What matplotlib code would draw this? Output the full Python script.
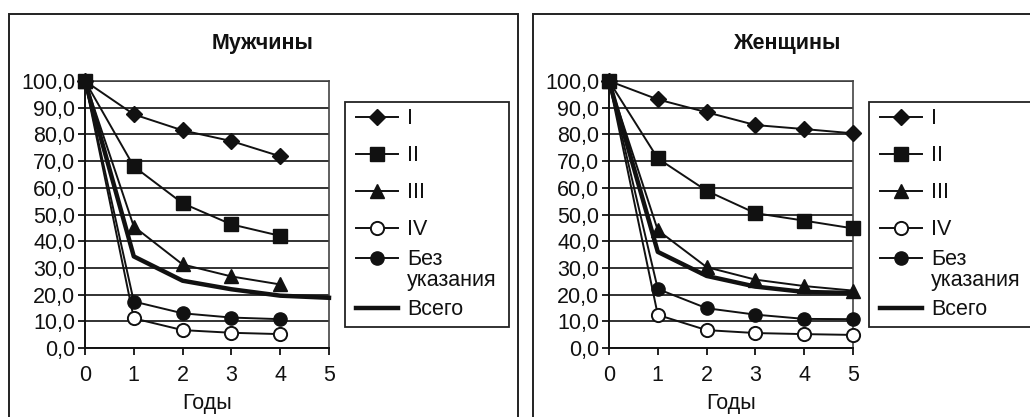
import matplotlib
matplotlib.use("Agg")
import matplotlib.pyplot as plt
from matplotlib.lines import Line2D
from matplotlib.patches import Rectangle
from matplotlib.legend_handler import HandlerLine2D
from matplotlib.offsetbox import TextArea
from matplotlib.transforms import Bbox
from matplotlib.ticker import FuncFormatter

plt.rcParams['font.family'] = ['Liberation Sans', 'DejaVu Sans']

# ---------------- data ----------------
titles = ["Мужчины", "Женщины"]
x_label = "Годы"
series_names = ["I", "II", "III", "IV", "Без\nуказания", "Всего"]

years_men = [0, 1, 2, 3, 4]
men_I = [100, 87.5, 81.5, 77.5, 71.8]
men_II = [100, 68.0, 54.2, 46.3, 42.0]
men_III = [100, 45.5, 31.3, 26.8, 23.8]
men_IV = [100, 11.1, 6.7, 5.7, 5.2]
men_none = [100, 17.4, 13.0, 11.4, 10.8]
years_men_total = [0, 1, 2, 3, 4, 5]
men_total = [100, 34.3, 25.2, 22.0, 19.6, 18.8]

years_women = [0, 1, 2, 3, 4, 5]
women_I = [100, 93.1, 88.3, 83.5, 82.0, 80.4]
women_II = [100, 71.0, 58.9, 50.5, 47.7, 44.8]
women_III = [100, 44.1, 30.3, 25.6, 23.2, 21.5]
women_IV = [100, 12.4, 6.7, 5.6, 5.2, 4.9]
women_none = [100, 22.1, 14.9, 12.5, 10.9, 10.8]
years_women_total = [0, 1, 2, 3, 4, 5]
women_total = [100, 36.0, 27.0, 23.0, 21.0, 20.6]

x_ticks = [0, 1, 2, 3, 4, 5]
y_ticks = [0, 10, 20, 30, 40, 50, 60, 70, 80, 90, 100]

# ---------------- styles ----------------
FS = 15.5
LW = 1.4
LW_TOTAL = 3.2
styles = [
    dict(marker="D", ms=8.0, mfc="#111111", mec="#111111"),
    dict(marker="s", ms=10.5, mfc="#111111", mec="#111111"),
    dict(marker="^", ms=10.5, mfc="#111111", mec="#111111"),
    dict(marker="o", ms=9.5, mfc="white", mec="#111111", mew=1.4),
    dict(marker="o", ms=9.5, mfc="#111111", mec="#111111"),
]
zorders = [4, 8, 5, 6, 7]


class HandlerShift(HandlerLine2D):
    def __init__(self, shift, **kw):
        super().__init__(**kw)
        self.shift = shift

    def create_artists(self, legend, orig_handle, xdescent, ydescent,
                       width, height, fontsize, trans):
        arts = super().create_artists(legend, orig_handle, xdescent, ydescent,
                                      width, height, fontsize, trans)
        for a in arts:
            a.set_ydata([y + self.shift for y in a.get_ydata()])
        return arts


def compress_textarea(ta, d):
    orig = ta.get_bbox

    def get_bbox(renderer):
        bb = orig(renderer)
        return Bbox.from_bounds(bb.x0, bb.y0 + d, bb.width, bb.height - 2 * d)

    ta.get_bbox = get_bbox


fig = plt.figure(figsize=(10.30, 4.17), dpi=100)
W, H = 1030.0, 417.0

# outer frames
for (x0, x1) in [(9, 518), (533, 1045)]:
    fig.patches.append(Rectangle((x0 / W, -0.05), (x1 - x0) / W, (H - 14) / H + 0.05,
                                 transform=fig.transFigure, fill=False,
                                 edgecolor="#222222", linewidth=1.4))

panels = [
    (titles[0], 85, 263, 345,
     [(years_men, men_I), (years_men, men_II), (years_men, men_III),
      (years_men, men_IV), (years_men, men_none)],
     (years_men_total, men_total)),
    (titles[1], 609, 787, 869,
     [(years_women, women_I), (years_women, women_II), (years_women, women_III),
      (years_women, women_IV), (years_women, women_none)],
     (years_women_total, women_total)),
]

fmt = FuncFormatter(lambda v, p: f"{v:.1f}".replace(".", ","))

for title, axl, title_x, leg_x, series, total in panels:
    ax = fig.add_axes([axl / W, 1 - 348 / H, 244 / W, 267 / H])
    handles = []
    for (xs, ys), st, z in zip(series, styles, zorders):
        h, = ax.plot(xs, ys, color="#111111", lw=LW, clip_on=False, zorder=z, **st)
        handles.append(h)
    ht, = ax.plot(total[0], total[1], color="#111111", lw=LW_TOTAL,
                  solid_joinstyle="round", clip_on=False, zorder=3)
    handles.append(ht)

    ax.set_xlim(0, 5)
    ax.set_ylim(0, 100)
    ax.set_xticks(x_ticks)
    ax.set_yticks(y_ticks)
    ax.yaxis.set_major_formatter(fmt)
    ax.tick_params(axis="both", direction="out", length=5, width=1.3,
                   labelsize=FS, colors="#111111", pad=2)
    ax.tick_params(axis="x", pad=7)
    ax.grid(axis="y", color="#222222", lw=1.3, zorder=1)
    ax.set_axisbelow(True)
    for s in ["left", "bottom"]:
        ax.spines[s].set_color("#111111")
        ax.spines[s].set_linewidth(1.4)
    for s in ["right", "top"]:
        ax.spines[s].set_color("#444444")
        ax.spines[s].set_linewidth(1.2)
    ax.set_xlabel(x_label, fontsize=FS, labelpad=5, color="#111111")

    fig.text(title_x / W, 1 - 43 / H, title, fontsize=FS, fontweight="bold",
             ha="center", va="center", color="#111111")

    leg = fig.legend(handles, series_names, loc="upper left",
                     bbox_to_anchor=(leg_x / W, 1 - 322 / H, 164 / W, 220 / H),
                     bbox_transform=fig.transFigure, mode="expand",
                     fontsize=FS, frameon=True, fancybox=False, framealpha=1,
                     edgecolor="#222222", borderpad=0.3, borderaxespad=0,
                     handlelength=2.165, handletextpad=0.42, labelspacing=0.74,
                     handler_map={Line2D: HandlerLine2D(xpad=0.21),
                                  handles[4]: HandlerShift(8.5, xpad=0.21)})
    leg.get_frame().set_linewidth(1.3)
    for t in leg.get_texts():
        t.set_color("#111111")
        t.set_linespacing(1.0)
    for ta in leg.findobj(TextArea):
        if ta.get_text() == series_names[4]:
            compress_textarea(ta, 7.5)

fig.savefig("out.png", dpi=100, facecolor="white")
